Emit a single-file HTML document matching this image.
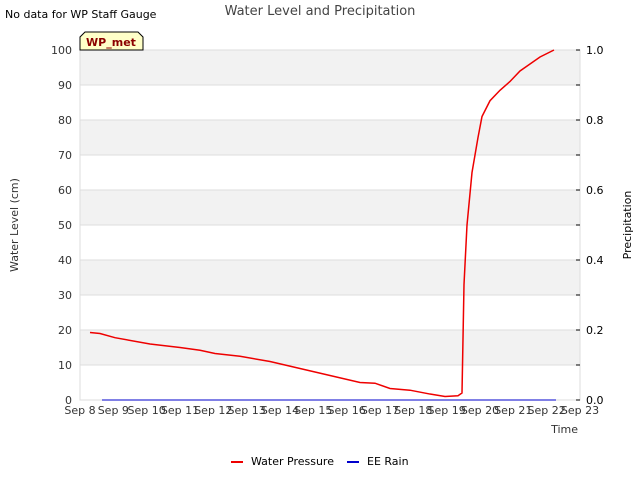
<!DOCTYPE html>
<html><head><meta charset="utf-8"><style>
body{margin:0;background:#fff;font-family:"Liberation Sans","DejaVu Sans",sans-serif}
text{font-family:"DejaVu Sans","Liberation Sans",sans-serif}
</style></head><body>
<svg id="chart" width="640" height="480" xmlns="http://www.w3.org/2000/svg">
<text x="5" y="18" font-size="11" fill="#000">No data for WP Staff Gauge</text>
<text x="320" y="15" font-size="13" fill="#444" text-anchor="middle">Water Level and Precipitation</text>
<g id="grid"></g>
<g id="axes"></g>
<g id="series"></g>
<g>
<path d="M80,50 L80,37 L85,32 L138,32 L143,37 L143,50 Z" fill="#ffffc8" stroke="#000" stroke-width="1"/>
<text x="111" y="46" font-size="11" font-weight="bold" fill="#8b0000" text-anchor="middle">WP_met</text>
</g>
<text transform="translate(18,225) rotate(-90)" font-size="11" fill="#333" text-anchor="middle">Water Level (cm)</text>
<text transform="translate(631,225) rotate(-90)" font-size="11" fill="#000" text-anchor="middle">Precipitation</text>
<text x="578" y="433" font-size="11" fill="#333" text-anchor="end">Time</text>
<g>
<line x1="231" y1="462" x2="243" y2="462" stroke="#e00" stroke-width="2"/>
<text x="251" y="465" font-size="11" fill="#000">Water Pressure</text>
<line x1="347" y1="462" x2="359" y2="462" stroke="#00c" stroke-width="2"/>
<text x="367" y="465" font-size="11" fill="#000">EE Rain</text>
</g>
</svg>
<script>
const xTickLabels=["Sep 8","Sep 9","Sep 10","Sep 11","Sep 12","Sep 13","Sep 14","Sep 15","Sep 16","Sep 17","Sep 18","Sep 19","Sep 20","Sep 21","Sep 22","Sep 23"];
const yTicks=[0,10,20,30,40,50,60,70,80,90,100];
const y2Ticks=[0,0.2,0.4,0.6,0.8,1.0];
const wpDays=[0.3,0.6,1.05,2.1,3,3.6,4.05,4.8,5.7,6.6,7.5,8.4,8.85,9.3,9.9,10.5,10.95,11.34,11.46,11.52,11.61,11.76,11.94,12.06,12.3,12.6,12.9,13.2,13.5,13.8,14.22];
const wpLevel=[19.3,19,17.8,16,15,14.2,13.3,12.5,11,9,7,5,4.8,3.3,2.8,1.7,1.0,1.2,2,33,50,65,75,81,85.5,88.5,91,94,96,98,100];
const rainDays=[0.66,14.28];
const rainVals=[0,0];
const L=80,R=580,T=50,B=400;
const xs=d=>L+d*(R-L)/15, ys=v=>B-v*(B-T)/100, ys2=v=>B-v*(B-T)/1;
const NS="http://www.w3.org/2000/svg";
function mk(tag,attrs,parent){const e=document.createElementNS(NS,tag);for(const k in attrs)e.setAttribute(k,attrs[k]);parent.appendChild(e);return e;}
const grid=document.getElementById('grid'),axes=document.getElementById('axes'),series=document.getElementById('series');
for(let i=0;i<10;i+=2){const b=mk('rect',{x:L,y:ys(yTicks[i+1]+10),width:R-L,height:ys(0)-ys(10),fill:'#f2f2f2'},grid);

}
yTicks.forEach(v=>{const g=mk('line',{x1:L,x2:R,y1:ys(v),y2:ys(v),stroke:'#ddd'},grid);


const t=mk('text',{x:L-8,y:ys(v)+4,'font-size':11,fill:'#333','text-anchor':'end'},axes);t.textContent=v;

});
mk('rect',{x:L,y:T,width:R-L,height:B-T,fill:'none',stroke:'#ddd'},grid);
for(let v=0;v<=1.0001;v+=0.1){mk('line',{x1:R-4,x2:R,y1:ys2(v),y2:ys2(v),stroke:'#000'},axes);}
y2Ticks.forEach(v=>{const t=mk('text',{x:R+6,y:ys2(v)+4,'font-size':11,fill:'#000'},axes);t.textContent=v.toFixed(1);

});
xTickLabels.forEach((s,i)=>{const t=mk('text',{x:xs(i),y:414,'font-size':11,fill:'#333','text-anchor':'middle'},axes);t.textContent=s;

});
const rp=mk('polyline',{points:rainDays.map((d,i)=>xs(d)+','+ys2(rainVals[i])).join(' '),fill:'none',stroke:'#00c','stroke-width':1},series);


const wp=mk('polyline',{points:wpDays.map((d,i)=>xs(d)+','+ys(wpLevel[i])).join(' '),fill:'none',stroke:'#e00','stroke-width':1.5},series);


</script>
</body></html>
